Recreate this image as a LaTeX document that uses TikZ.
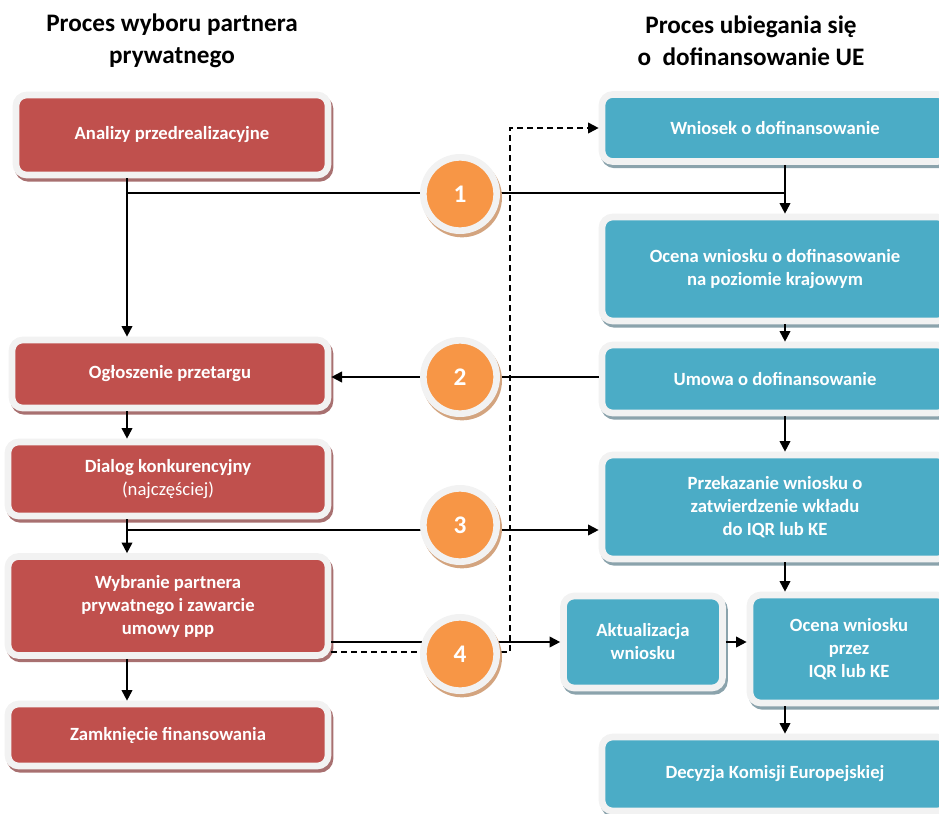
\documentclass[tikz,border=0pt]{standalone}
\usepackage{fontspec}
\setmainfont{Carlito}
\usetikzlibrary{arrows.meta,shadows}

\definecolor{boxred}{HTML}{C0504D}
\definecolor{boxblue}{HTML}{4BACC6}
\definecolor{numorange}{HTML}{F79646}
\definecolor{rimgrey}{HTML}{F2F2F2}
\definecolor{redshade}{HTML}{A87070}
\definecolor{blueshade}{HTML}{8BA3AC}
\definecolor{orangeshade}{HTML}{D3A47F}

\tikzset{
  dims/.style 2 args={minimum width=#1*0.75pt, minimum height=#2*0.75pt},
  box/.style={rectangle, rounded corners=8pt, draw=rimgrey, line width=5pt,
    text=white, align=center, inner sep=0pt,
    font=\fontsize{14}{17.25}\selectfont\bfseries},
  redbox/.style={box, fill=boxred, general shadow={fill=redshade, draw=redshade,
    line width=5pt, shadow xshift=1.5pt, shadow yshift=-2.5pt}},
  bluebox/.style={box, fill=boxblue, general shadow={fill=blueshade, draw=blueshade,
    line width=5pt, shadow xshift=1.5pt, shadow yshift=-2.5pt}},
  numcircle/.style={circle, fill=numorange, draw=rimgrey, line width=5pt,
    minimum size=55pt, inner sep=0pt, text=white,
    font=\fontsize{19}{19}\selectfont\bfseries,
    general shadow={fill=orangeshade, draw=orangeshade, line width=5pt,
    shadow xshift=1.5pt, shadow yshift=-2.5pt}},
  arr/.style={-{Triangle[length=8pt,width=8pt]}, line width=1.4pt},
  link/.style={line width=1.4pt},
  title/.style={align=center, font=\fontsize{18.9}{24}\selectfont\bfseries}
}

\begin{document}
\begin{tikzpicture}[x=0.75pt, y=-0.75pt]
	\useasboundingbox (0,0) rectangle (939,814);
	\clip (0,0) rectangle (939,814);

	% Tytuły kolumn
	\node[title] (tL) at (172,41) {Proces wyboru partnera\\prywatnego};
	\node[title] (tR) at (751,41) {Proces ubiegania się\\o\ \ dofinansowanie UE};

	% Lewa kolumna - wybór partnera
	\node[redbox, dims={312}{80}] (anal) at (172,135) {Analizy przedrealizacyjne};
	\node[redbox, dims={316}{68}] (ogl) at (170,374) {Ogłoszenie przetargu};
	\node[redbox, dims={320}{74}] (dial) at (168,479) {Dialog konkurencyjny\\{\mdseries(najczęściej)}};
	\node[redbox, dims={320}{99}] (wyb) at (168,606) {Wybranie partnera\\prywatnego i zawarcie\\umowy ppp};
	\node[redbox, dims={320}{62}] (zamk) at (168,735) {Zamknięcie finansowania};

	% Prawa kolumna - dofinansowanie UE
	\node[bluebox, dims={346}{67}] (wn) at (775,128) {Wniosek o dofinansowanie};
	\node[bluebox, dims={346}{104}] (ocK) at (775,269) {Ocena wniosku o dofinasowanie\\na poziomie krajowym};
	\node[bluebox, dims={346}{68}] (umowa) at (775,379) {Umowa o dofinansowanie};
	\node[bluebox, dims={346}{104}] (przek) at (775,507) {Przekazanie wniosku o\\zatwierdzenie wkładu\\do IQR lub KE};
	\node[bluebox, dims={159}{92}] (akt) at (643,642) {Aktualizacja\\wniosku};
	\node[bluebox, dims={198}{108}] (ocIQR) at (849,649) {Ocena wniosku\\przez\\IQR lub KE};
	\node[bluebox, dims={346}{74}] (dec) at (775,774) {Decyzja Komisji Europejskiej};

	% Osie pionowe i wysokości linii
	\coordinate (osL) at (127,0);
	\coordinate (osR) at (785,0);
	\coordinate (h1) at (0,193);
	\coordinate (h2) at (0,377);
	\coordinate (h3) at (0,530);
	\coordinate (kreska) at (510,652);

	% Strzałki w lewej kolumnie
	\draw[arr] (anal.south -| osL) -- (ogl.north -| osL);
	\draw[arr] (ogl.south -| osL) -- (dial.north -| osL);
	\draw[arr] (dial.south -| osL) -- (wyb.north -| osL);
	\draw[arr] (wyb.south -| osL) -- (zamk.north -| osL);

	% Strzałki w prawej kolumnie
	\draw[arr] (wn.south -| osR) -- (ocK.north -| osR);
	\draw[arr] (ocK.south -| osR) -- (umowa.north -| osR);
	\draw[arr] (umowa.south -| osR) -- (przek.north -| osR);
	\draw[arr] (przek.south -| osR) -- (ocIQR.north -| osR);
	\draw[arr] (ocIQR.south -| osR) -- (dec.north -| osR);
	\draw[arr] (akt.east) -- (ocIQR.west |- akt.east);

	% Powiązania między procesami
	\draw[link] (osL |- h1) -- (osR |- h1);
	\draw[arr] (umowa.west |- h2) -- (ogl.east |- h2);
	\draw[arr] (osL |- h3) -- (przek.west |- h3);
	\draw[arr] (wyb.east |- akt.west) -- (akt.west);
	\draw[arr, dash pattern=on 4.5pt off 3pt] (wyb.east |- kreska) -- (kreska) |- (wn.west);

	% Etapy 1-4
	\node[numcircle] (n1) at (460,194) {1};
	\node[numcircle] (n2) at (460,377) {2};
	\node[numcircle] (n3) at (460,525) {3};
	\node[numcircle] (n4) at (460,654) {4};

\end{tikzpicture}
\end{document}
